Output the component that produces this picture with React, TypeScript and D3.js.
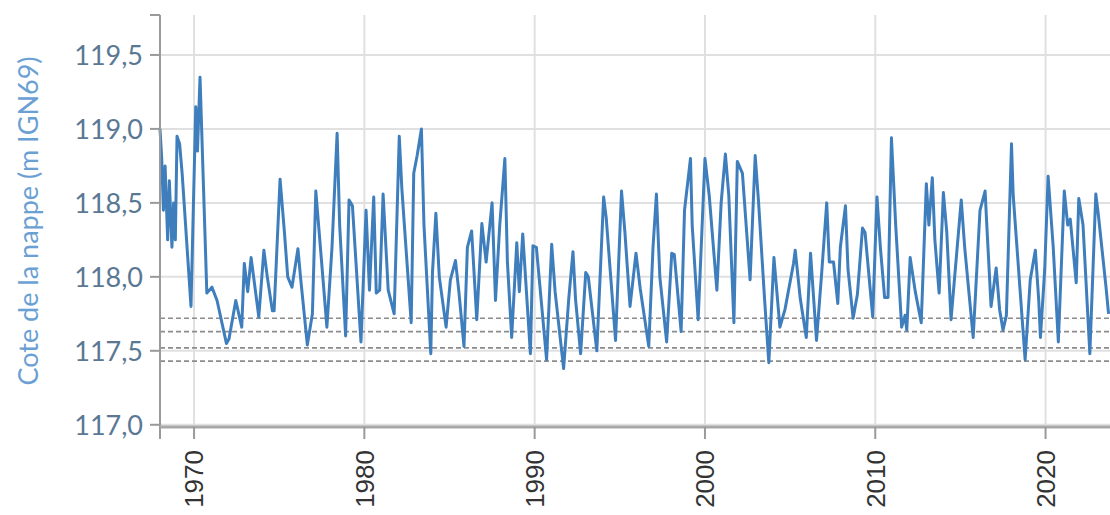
import * as d3 from "d3";

// groundwater level (decimal year / m IGN69)
const dates = [
  1968.0, 1968.1, 1968.2, 1968.3, 1968.45, 1968.55, 1968.7, 1968.8, 1968.9, 1969.0,
  1969.15, 1969.3, 1969.82, 1970.1, 1970.2, 1970.35, 1970.75, 1971.05, 1971.35, 1971.9,
  1972.05, 1972.45, 1972.8, 1972.95, 1973.15, 1973.35, 1973.8, 1974.1, 1974.3, 1974.6,
  1974.7, 1975.05, 1975.3, 1975.5, 1975.75, 1976.1, 1976.25, 1976.65, 1976.95, 1977.15,
  1977.8, 1978.1, 1978.4, 1978.55, 1978.9, 1979.1, 1979.3, 1979.8, 1980.1, 1980.3,
  1980.55, 1980.7, 1980.9, 1981.1, 1981.4, 1981.75, 1981.85, 1982.05, 1982.2, 1982.35,
  1982.75, 1982.9, 1983.1, 1983.35, 1983.5, 1983.9, 1984.0, 1984.2, 1984.4, 1984.8,
  1985.05, 1985.35, 1985.55, 1985.85, 1986.05, 1986.3, 1986.6, 1986.9, 1987.15, 1987.5,
  1987.7, 1987.95, 1988.25, 1988.4, 1988.65, 1988.95, 1989.1, 1989.3, 1989.75, 1989.9,
  1990.1, 1990.7, 1991.0, 1991.2, 1991.7, 1992.0, 1992.25, 1992.4, 1992.7, 1993.0,
  1993.15, 1993.65, 1994.05, 1994.2, 1994.75, 1995.1, 1995.3, 1995.6, 1995.95, 1996.2,
  1996.7, 1996.95, 1997.15, 1997.35, 1997.75, 1998.05, 1998.2, 1998.6, 1998.8, 1999.15,
  1999.25, 1999.6, 2000.0, 2000.25, 2000.7, 2000.95, 2001.2, 2001.4, 2001.7, 2001.9,
  2002.2, 2002.65, 2002.95, 2003.15, 2003.5, 2003.75, 2004.05, 2004.4, 2004.7, 2005.2,
  2005.3, 2005.6, 2005.95, 2006.2, 2006.55, 2006.85, 2007.15, 2007.3, 2007.55, 2007.8,
  2007.95, 2008.25, 2008.4, 2008.7, 2008.95, 2009.25, 2009.4, 2009.85, 2010.1, 2010.3,
  2010.55, 2010.75, 2010.95, 2011.2, 2011.55, 2011.75, 2011.85, 2012.05, 2012.35, 2012.7,
  2013.0, 2013.15, 2013.35, 2013.5, 2013.75, 2014.0, 2014.2, 2014.45, 2014.7, 2015.05,
  2015.25, 2015.75, 2016.15, 2016.45, 2016.55, 2016.8, 2017.1, 2017.3, 2017.5, 2017.7,
  2018.0, 2018.1, 2018.8, 2019.1, 2019.4, 2019.6, 2019.7, 2019.95, 2020.15, 2020.45,
  2020.75, 2021.1, 2021.3, 2021.45, 2021.8, 2021.95, 2022.2, 2022.6, 2022.95, 2023.1,
  2023.55, 2023.7,
];

const levels = [
  119.0, 118.8, 118.45, 118.75, 118.25, 118.65, 118.2, 118.5, 118.25, 118.95,
  118.9, 118.7, 117.8, 119.15, 118.85, 119.35, 117.89, 117.93, 117.84, 117.55,
  117.58, 117.84, 117.66, 118.09, 117.9, 118.13, 117.73, 118.18, 118.0, 117.77,
  117.77, 118.66, 118.31, 118.0, 117.93, 118.19, 118.0, 117.54, 117.75, 118.58,
  117.66, 118.2, 118.97, 118.35, 117.6, 118.52, 118.48, 117.56, 118.45, 117.91,
  118.54, 117.89, 117.91, 118.56, 117.91, 117.75, 118.15, 118.95, 118.6, 118.35,
  117.69, 118.7, 118.82, 119.0, 118.35, 117.48, 118.03, 118.43, 118.0, 117.66,
  117.98, 118.11, 117.9, 117.53, 118.2, 118.31, 117.71, 118.36, 118.1, 118.5,
  117.84, 118.35, 118.8, 118.1, 117.59, 118.23, 117.9, 118.29, 117.48, 118.21,
  118.2, 117.44, 118.22, 117.9, 117.38, 117.85, 118.17, 117.85, 117.48, 118.03,
  118.0, 117.5, 118.54, 118.4, 117.57, 118.58, 118.3, 117.8, 118.16, 117.92,
  117.53, 118.2, 118.56, 118.0, 117.56, 118.16, 118.15, 117.63, 118.45, 118.8,
  118.35, 117.71, 118.8, 118.55, 117.91, 118.5, 118.83, 118.55, 117.69, 118.78,
  118.7, 117.98, 118.82, 118.5, 117.85, 117.42, 118.13, 117.66, 117.78, 118.09,
  118.18, 117.85, 117.59, 118.16, 117.57, 118.02, 118.5, 118.1, 118.1, 117.82,
  118.2, 118.48, 118.05, 117.72, 117.88, 118.33, 118.3, 117.73, 118.54, 118.2,
  117.86, 117.86, 118.94, 118.35, 117.66, 117.74, 117.64, 118.13, 117.9, 117.69,
  118.63, 118.35, 118.67, 118.25, 117.89, 118.57, 118.3, 117.71, 118.05, 118.52,
  118.2, 117.59, 118.45, 118.58, 118.35, 117.8, 118.06, 117.78, 117.64, 117.74,
  118.9, 118.55, 117.44, 117.98, 118.18, 117.84, 117.59, 118.05, 118.68, 118.2,
  117.56, 118.58, 118.35, 118.39, 117.96, 118.53, 118.35, 117.48, 118.56, 118.42,
  117.93, 117.75,
];

// reference levels shown as dashed lines
const thresholds = [117.72, 117.63, 117.52, 117.43];

const yTicks = [117.0, 117.5, 118.0, 118.5, 119.0, 119.5];
const xTicks = [1970, 1980, 1990, 2000, 2010, 2020];

const W = 1110;
const H = 515;
const left = 160;
const top = 15;
const bottom = 427;

export default function App() {
  const x = d3.scaleLinear().domain([1968, 2024]).range([left, left + 56 * 17.03]);
  const y = d3.scaleLinear().domain([116.985, 119.77]).range([bottom, top]);

  const points = dates.map((d, i) => [d, levels[i]] as [number, number]);
  const line = d3
    .line<[number, number]>()
    .x((d) => x(d[0]))
    .y((d) => y(d[1]));

  const fmt = (v: number) => v.toFixed(1).replace(".", ",");

  return (
    <svg
      width={W}
      height={H}
      style={{ position: "absolute", left: 0, top: 0, background: "#fff" }}
    >
      {/* grid */}
      {yTicks.map((t) => (
        <line key={"gy" + t} x1={left} x2={W} y1={y(t)} y2={y(t)} stroke="#e0e0e0" strokeWidth={2} />
      ))}
      {xTicks.map((t) => (
        <line key={"gx" + t} x1={x(t)} x2={x(t)} y1={top} y2={bottom} stroke="#e0e0e0" strokeWidth={2} />
      ))}

      {/* thresholds */}
      {thresholds.map((t) => (
        <line
          key={"th" + t}
          x1={left}
          x2={W}
          y1={y(t)}
          y2={y(t)}
          stroke="#8c8c8c"
          strokeWidth={1.6}
          strokeDasharray="5,3"
        />
      ))}

      {/* series */}
      <path d={line(points) ?? ""} fill="none" stroke="#3f7ebd" strokeWidth={3} strokeLinejoin="round" />

      {/* y axis */}
      <line x1={left} x2={left} y1={top} y2={bottom + 12} stroke="#9a9a9a" strokeWidth={2} />
      <line x1={left - 10} x2={left} y1={top} y2={top} stroke="#9a9a9a" strokeWidth={2} />
      {yTicks.map((t) => (
        <g key={"yt" + t} transform={`translate(0,${y(t)})`}>
          <line x1={left - 10} x2={left} stroke="#9a9a9a" strokeWidth={2} />
          <text
            x={left - 17}
            dy="0.36em"
            textAnchor="end"
            fontFamily="Lato, 'Open Sans', sans-serif"
            fontSize={27}
            fill="#5a7894"
          >
            {fmt(t)}
          </text>
        </g>
      ))}

      {/* x axis */}
      <line x1={left} x2={W} y1={bottom} y2={bottom} stroke="#a8a8a8" strokeWidth={3} />
      {xTicks.map((t) => (
        <g key={"xt" + t} transform={`translate(${x(t)},0)`}>
          <line y1={bottom} y2={bottom + 12} stroke="#9a9a9a" strokeWidth={2} />
          <text
            transform={`translate(0,${bottom + 23}) rotate(-90)`}
            dy="0.36em"
            textAnchor="end"
            fontFamily="'Liberation Sans', Arial, sans-serif"
            fontSize={26}
            fill="#333"
          >
            {t}
          </text>
        </g>
      ))}

      {/* y title */}
      <text
        transform={`translate(28,${(top + bottom) / 2}) rotate(-90)`}
        dy="0.36em"
        textAnchor="middle"
        fontFamily="Lato, 'Open Sans', sans-serif"
        fontSize={27}
        fill="#6aa0d4"
      >
        Cote de la nappe (m IGN69)
      </text>
    </svg>
  );
}
